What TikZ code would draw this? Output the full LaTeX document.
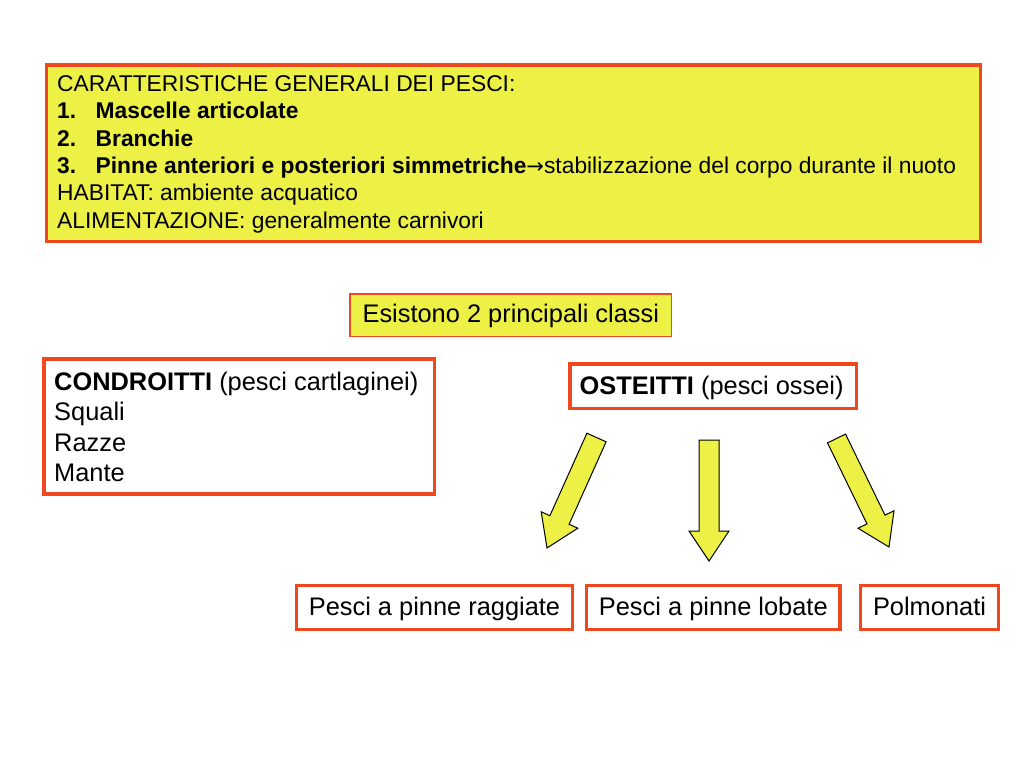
\documentclass[tikz,border=0pt]{standalone}
\usepackage{fontspec}
\setmainfont{Liberation Sans}
\newfontfamily\symfont{DejaVu Sans}
\definecolor{fy}{RGB}{237,241,70}
\definecolor{fr}{RGB}{240,72,30}
\begin{document}
\begin{tikzpicture}[x=1pt,y=-1pt,
  redbox/.style={draw=fr, line width=3.3pt, inner sep=0pt, rectangle},
  thinbox/.style={draw=fr, line width=1.5pt, inner sep=0pt, rectangle},
  toptxt/.style={anchor=base west, inner sep=0pt, font=\fontsize{22.8}{27.3}\selectfont},
  lowtxt/.style={anchor=base west, inner sep=0pt, font=\fontsize{25.4}{30.5}\selectfont},
  boxtxt/.style={font=\fontsize{25.4}{30.5}\selectfont},
  blockarrow/.style={draw=black, line width=1pt, fill=fy, line join=miter}]
\useasboundingbox (0,0) rectangle (1024,768);

% top box
\node[redbox, fill=fy, minimum width=933.8pt, minimum height=176.5pt] (top) at (513.6,153.25) {};
\node[toptxt] (t1) at (57,91.5) {CARATTERISTICHE GENERALI DEI PESCI:};
\node[toptxt] (n1) at (57,118.8) {\bfseries 1.};
\node[toptxt] (t2) at (95.5,118.8) {\bfseries Mascelle articolate};
\node[toptxt] (n2) at (57,146.1) {\bfseries 2.};
\node[toptxt] (t3) at (95.5,146.1) {\bfseries Branchie};
\node[toptxt] (n3) at (57,173.4) {\bfseries 3.};
\node[toptxt] (t4) at (95.5,173.4) {\textbf{Pinne anteriori e posteriori simmetriche}{\symfont\fontsize{21}{24}\selectfont →}stabilizzazione del corpo durante il nuoto};
\node[toptxt] (t5) at (57,200.7) {HABITAT: ambiente acquatico};
\node[toptxt] (t6) at (57,228) {ALIMENTAZIONE: generalmente carnivori};

% esistono
\node[thinbox, fill=fy, minimum width=321.7pt, minimum height=42.7pt, boxtxt, text height=18.5pt, text depth=4.5pt] (esi) at (510.8,315.3) {Esistono 2 principali classi};

% condroitti
\node[redbox, fill=white, minimum width=390.3pt, minimum height=135pt] (cond) at (239.2,426.5) {};
\node[lowtxt] (c1) at (54,390) {\textbf{CONDROITTI} (pesci cartlaginei)};
\node[lowtxt] (c2) at (54,420.5) {Squali};
\node[lowtxt] (c3) at (54,451) {Razze};
\node[lowtxt] (c4) at (54,481.5) {Mante};

% osteitti
\node[redbox, fill=white, minimum width=286.7pt, minimum height=44.3pt] (ost) at (713.3,386) {};
\node[lowtxt] (o1) at (579.5,394.3) {\textbf{OSTEITTI} (pesci ossei)};

% bottom boxes
\node[redbox, fill=white, minimum width=275.6pt, minimum height=43.6pt, boxtxt, text height=19pt, text depth=4pt] (rag) at (434.5,607.5) {Pesci a pinne raggiate};
\node[redbox, fill=white, minimum width=253.3pt, minimum height=43.6pt, boxtxt, text height=19pt, text depth=4pt] (lob) at (713.3,607.5) {Pesci a pinne lobate};
\node[redbox, fill=white, minimum width=137.6pt, minimum height=43.6pt, boxtxt, text height=19pt, text depth=4pt] (pol) at (929.5,607.5) {Polmonati};

% block arrows
\draw[blockarrow] (606.1,441.8) -- (569.1,524.3) -- (577.8,528.2) -- (547,548) -- (541.2,511.8) -- (549.9,515.7) -- (586.9,433.2) -- cycle;
\draw[blockarrow] (719,440) -- (719,531) -- (729,531) -- (709,561) -- (689,531) -- (699,531) -- (699,440) -- cycle;
\draw[blockarrow] (845.5,434.1) -- (885,515.1) -- (894,510.8) -- (889,547) -- (858,528.2) -- (867,523.9) -- (827.5,442.9) -- cycle;
\end{tikzpicture}
\end{document}
